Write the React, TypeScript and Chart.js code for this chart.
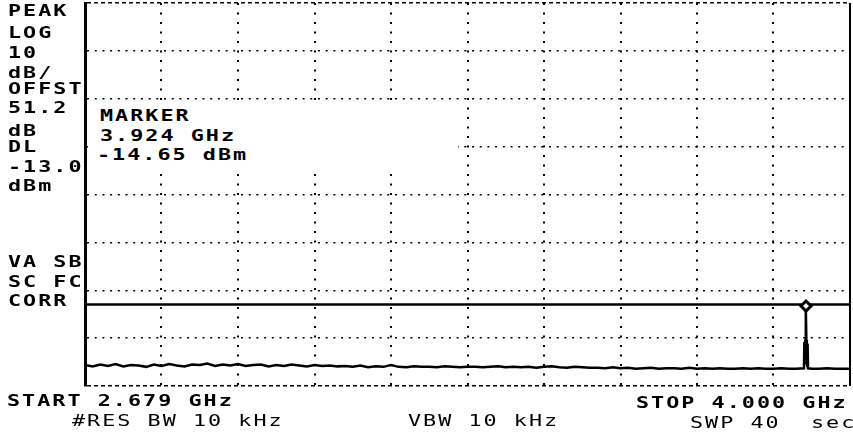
import React, { useEffect, useRef } from 'react';
import { Chart, registerables } from 'chart.js';

Chart.register(...registerables);

// ---- Sweep / display settings ----
const START_GHZ = 2.679;
const STOP_GHZ = 4.0;
const REF_TOP_DBM = 50;
const BOTTOM_DBM = -30;
const DB_PER_DIV = 10;
const HORZ_DIVS = 10;
const DISPLAY_LINE_DBM = -13.0;

// ---- Trace: noise floor levels (dBm) across the sweep ----
const noiseLevels = [
  -25.6, -25.9, -25.5, -25.8, -25.4, -25.9, -25.6, -25.7, -26.0, -25.5,
  -25.8, -25.4, -25.7, -25.9, -25.5, -25.6, -25.3, -25.8, -25.5, -25.7,
  -25.4, -25.8, -25.6, -25.5, -25.9, -25.6, -25.8, -25.5, -25.7, -25.9,
  -25.6, -25.8, -25.7, -25.9, -25.8, -26.0, -25.7, -26.1, -25.9, -26.0,
  -25.6, -26.0, -26.1, -25.9, -26.0, -26.0, -26.1, -25.9, -26.0, -26.1,
  -26.0, -26.0, -26.1, -26.0, -25.9, -26.1, -26.0, -26.1, -26.0, -26.2,
  -26.0, -25.9, -26.1, -26.2, -26.0, -26.1, -26.2, -26.2, -26.3, -26.1,
  -26.3, -26.2, -26.4, -26.3, -26.2, -26.4, -26.3, -26.3, -26.4, -26.2,
  -26.4, -26.3, -26.4, -26.3, -26.4, -26.4, -26.3, -26.4, -26.3, -26.4,
  -26.4, -26.3, -26.4, -26.4, -26.3, -26.4, -26.4, -26.3, -26.4, -26.4,
  -26.4,
];

// ---- Trace: carrier near the marker ----
const spikeFreqs = [3.9205, 3.9212, 3.9219, 3.9226, 3.9233, 3.924, 3.9247, 3.9254, 3.9261, 3.9268, 3.9275];
const spikeLevels = [-26.3, -20.8, -25.5, -20.3, -21.0, -13.3, -20.9, -20.4, -25.8, -21.2, -26.3];

// ---- Marker ----
const markerFreq = 3.924;
const markerLevel = -13.3;

// ---- Annotation texts ----
const statusLines = ['PEAK', 'LOG', '10', 'dB/', 'OFFST', '51.2', 'dB', 'DL', '-13.0', 'dBm'];
const correctionLines = ['VA SB', 'SC FC', 'CORR'];
const markerLines = ['MARKER', '3.924 GHz', '-14.65 dBm'];
const startText = 'START 2.679 GHz';
const stopText = 'STOP 4.000 GHz';
const rbwText = '#RES BW 10 kHz';
const vbwText = 'VBW 10 kHz';
const sweepText = 'SWP 40  sec';

// ---- Layout (positions only) ----
const statusBaselines = [17, 39, 59, 79, 95, 114, 137, 153, 173, 192];
const correctionBaselines = [268, 288, 307];
const markerBaselines = [122, 142, 161];
const markerX = [100, 100, 97];

const FONT = '"DejaVu Sans Mono", "Liberation Mono", monospace';

function Label(props: { text: string; x: number; baseline: number; bold?: boolean }) {
  const { text, x, baseline, bold = true } = props;
  return (
    <div
      style={{
        position: 'absolute',
        left: x,
        top: baseline - 12.7,
        fontFamily: FONT,
        fontSize: 15,
        lineHeight: '15px',
        fontWeight: bold ? 700 : 400,
        letterSpacing: '1.4px',
        whiteSpace: 'pre',
        transform: 'scaleX(1.45)',
        transformOrigin: '0 0',
        color: '#000',
      }}
    >
      {text}
    </div>
  );
}

function buildTrace() {
  const n = noiseLevels.length;
  const step = (STOP_GHZ - START_GHZ) / (n - 1);
  const lo = spikeFreqs[0];
  const hi = spikeFreqs[spikeFreqs.length - 1];
  const pts: { x: number; y: number }[] = [];
  noiseLevels.forEach((v, i) => {
    const f = START_GHZ + i * step;
    if (f < lo || f > hi) pts.push({ x: f, y: v });
  });
  spikeFreqs.forEach((f, i) => pts.push({ x: f, y: spikeLevels[i] }));
  pts.sort((a, b) => a.x - b.x);
  return pts;
}

export default function App() {
  const canvasRef = useRef<HTMLCanvasElement | null>(null);

  useEffect(() => {
    const canvas = canvasRef.current;
    if (!canvas) return;
    const xTicks: number[] = [];
    for (let i = 0; i <= HORZ_DIVS; i++) xTicks.push(START_GHZ + (i * (STOP_GHZ - START_GHZ)) / HORZ_DIVS);
    const yTicks: number[] = [];
    for (let v = BOTTOM_DBM; v <= REF_TOP_DBM; v += DB_PER_DIV) yTicks.push(v);

    const chart = new Chart(canvas, {
      type: 'line',
      data: {
        datasets: [
          {
            label: 'Trace',
            data: buildTrace(),
            borderColor: '#000',
            borderWidth: 2.5,
            pointRadius: 0,
            tension: 0,
            order: 3,
          },
          {
            label: 'Display line',
            data: [
              { x: START_GHZ, y: DISPLAY_LINE_DBM },
              { x: STOP_GHZ, y: DISPLAY_LINE_DBM },
            ],
            borderColor: '#000',
            borderWidth: 2.5,
            pointRadius: 0,
            order: 2,
          },
          {
            label: 'Marker',
            type: 'scatter',
            data: [{ x: markerFreq, y: markerLevel }],
            pointStyle: 'rectRot',
            pointRadius: 5,
            pointBorderWidth: 3,
            pointBackgroundColor: '#fff',
            pointBorderColor: '#000',
            showLine: false,
            order: 1,
          } as any,
        ],
      },
      options: {
        animation: false,
        responsive: false,
        maintainAspectRatio: false,
        devicePixelRatio: 1,
        layout: { autoPadding: false, padding: { left: 85, right: 3, top: 3, bottom: 48 } },
        plugins: { legend: { display: false }, tooltip: { enabled: false } },
        events: [],
        scales: {
          x: {
            type: 'linear',
            min: START_GHZ,
            max: STOP_GHZ,
            afterBuildTicks: (axis: any) => {
              axis.ticks = xTicks.map((v) => ({ value: v }));
            },
            ticks: { display: false },
            grid: {
              drawTicks: false,
              color: '#000',
              lineWidth: (ctx: any) => (ctx.index === 0 ? 0 : 2),
            },
            border: {
              display: false,
              dash: (ctx: any) => (ctx.index === HORZ_DIVS ? [] : [2, 7.5]),
            },
          },
          y: {
            type: 'linear',
            min: BOTTOM_DBM,
            max: REF_TOP_DBM,
            afterBuildTicks: (axis: any) => {
              axis.ticks = yTicks.map((v) => ({ value: v }));
            },
            ticks: { display: false },
            grid: {
              drawTicks: false,
              color: '#000',
              lineWidth: 1.5,
            },
            border: {
              display: true,
              color: '#000',
              width: 3,
              dash: (ctx: any) =>
                ctx.index === 0 || ctx.index === yTicks.length - 1 ? [4, 3] : [2, 5.7],
            },
          },
        },
      },
    } as any);
    return () => chart.destroy();
  }, []);

  return (
    <div
      style={{
        position: 'absolute',
        left: 0,
        top: 0,
        width: 853,
        height: 434,
        background: '#fff',
        overflow: 'hidden',
      }}
    >
      <canvas ref={canvasRef} width={853} height={434} style={{ width: 853, height: 434, display: 'block' }} />
      {/* marker readout box (hides the graticule behind it) */}
      <div style={{ position: 'absolute', left: 88, top: 101, width: 370, height: 71, background: '#fff' }} />
      {statusLines.map((t, i) => (
        <Label key={'s' + i} text={t} x={8} baseline={statusBaselines[i]} />
      ))}
      {correctionLines.map((t, i) => (
        <Label key={'c' + i} text={t} x={8} baseline={correctionBaselines[i]} />
      ))}
      {markerLines.map((t, i) => (
        <Label key={'m' + i} text={t} x={markerX[i]} baseline={markerBaselines[i]} />
      ))}
      <Label text={startText} x={7} baseline={407} />
      <Label text={stopText} x={636} baseline={409} />
      <Label text={rbwText} x={72} baseline={427} bold={false} />
      <Label text={vbwText} x={408} baseline={427} bold={false} />
      <Label text={sweepText} x={690} baseline={429} bold={false} />
    </div>
  );
}
